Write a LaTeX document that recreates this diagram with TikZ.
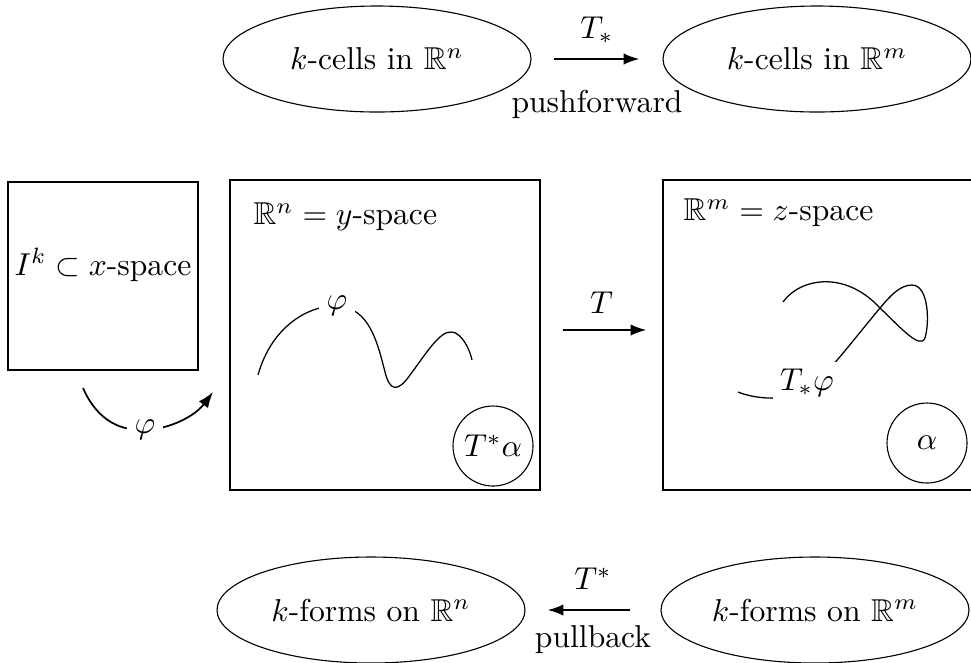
\documentclass[tikz,border=0pt]{standalone}
\usepackage{amsmath,amssymb}
\usetikzlibrary{shapes.geometric,arrows.meta}
\newcommand\px{0.316pt}
\begin{document}
\begin{tikzpicture}[x=0.316pt,y=-0.316pt,
  oval/.style={draw, line width=0.35pt, ellipse, inner sep=0pt, minimum width=308*\px, minimum height=106*\px},
  spacebox/.style={draw, line width=0.35pt, inner sep=0pt, minimum width=310*\px, minimum height=310*\px},
  formcirc/.style={draw, line width=0.35pt, circle, inner sep=0pt, minimum size=80*\px},
  map/.style={-{Latex[length=5pt,width=3.6pt]}, line width=0.65pt},
  cutlabel/.style={fill=white, inner sep=2.3pt},
  curve/.style={line width=0.4pt}]
\useasboundingbox (0,0) rectangle (971,662);
% top row
\node[oval] (cn) at (377,59) {$k$-cells in $\mathbb{R}^n$};
\node[oval] (cm) at (817,59) {$k$-cells in $\mathbb{R}^m$};
\draw[map, shorten <=22*\px, shorten >=23*\px] (cn) -- (cm)
  node[midway, above=1.2pt] (tstar) {$T_*$}
  node[midway, below=6.2pt] (push) {pushforward};
% bottom row
\node[oval] (fn) at (371,610) {$k$-forms on $\mathbb{R}^n$};
\node[oval] (fm) at (815,610) {$k$-forms on $\mathbb{R}^m$};
\draw[map, shorten <=30*\px, shorten >=22*\px] (fm) -- (fn)
  node[midway, above=2.8pt] (tup) {$T^*$}
  node[midway, below=1.4pt] (pull) {pullback};
% middle row
\node[draw, line width=0.35pt, inner sep=0pt, minimum width=190*\px, minimum height=188*\px] (xs) at (103,276) {};
\node (xlab) at ([yshift=3.5pt]xs.center) {$I^k\subset x$-space};
\node[spacebox] (ys) at (385,335) {};
\node[anchor=west, inner sep=0pt] (ylab) at (253,217) {$\mathbb{R}^n = y$-space};
\node[spacebox] (zs) at (818,335) {};
\node[anchor=west, inner sep=0pt] (zlab) at (683,213) {$\mathbb{R}^m = z$-space};
\node[formcirc] (pa) at (493,446) {$T^*\alpha$};
\node[formcirc] (al) at (927,443) {$\alpha$};
% T arrow
\draw[map, shorten <=22*\px, shorten >=16*\px] ([yshift=5*\px]ys.east) -- ([yshift=5*\px]zs.west)
  node[midway, above=1.5pt] (tlab) {$T$};
% phi arrow
\coordinate (phis) at (83,388);
\coordinate (phie) at (213,392);
\draw[map, line width=0.55pt] (phis) .. controls (98,422) and (122,431) .. (145,430)
  node[cutlabel] (philab) {$\varphi$}
  .. controls (170,429) and (195,416) .. (phie);
% curve in y-space
\draw[curve] (258,375) .. controls (272,325) and (310,305) .. (337,306)
  node[cutlabel] (phic) {$\varphi$}
  .. controls (370,307) and (378,345) .. (385,372)
  .. controls (390,392) and (398,392) .. (410,375)
  .. controls (425,355) and (440,330) .. (452,332)
  .. controls (462,333) and (470,350) .. (472,360);
% curve in z-space
\draw[curve] (783,302) .. controls (800,278) and (845,270) .. (880,308)
  .. controls (900,327) and (920,350) .. (925,338)
  .. controls (930,320) and (928,285) .. (912,285)
  .. controls (900,285) and (890,296) .. (880,308)
  .. controls (865,326) and (850,345) .. (838,359)
  .. controls (815,385) and (795,400) .. (770,398)
  .. controls (758,398) and (745,395) .. (738,392);
\node[cutlabel] (tphi) at (807,383) {$T_*\varphi$};
\end{tikzpicture}
\end{document}
